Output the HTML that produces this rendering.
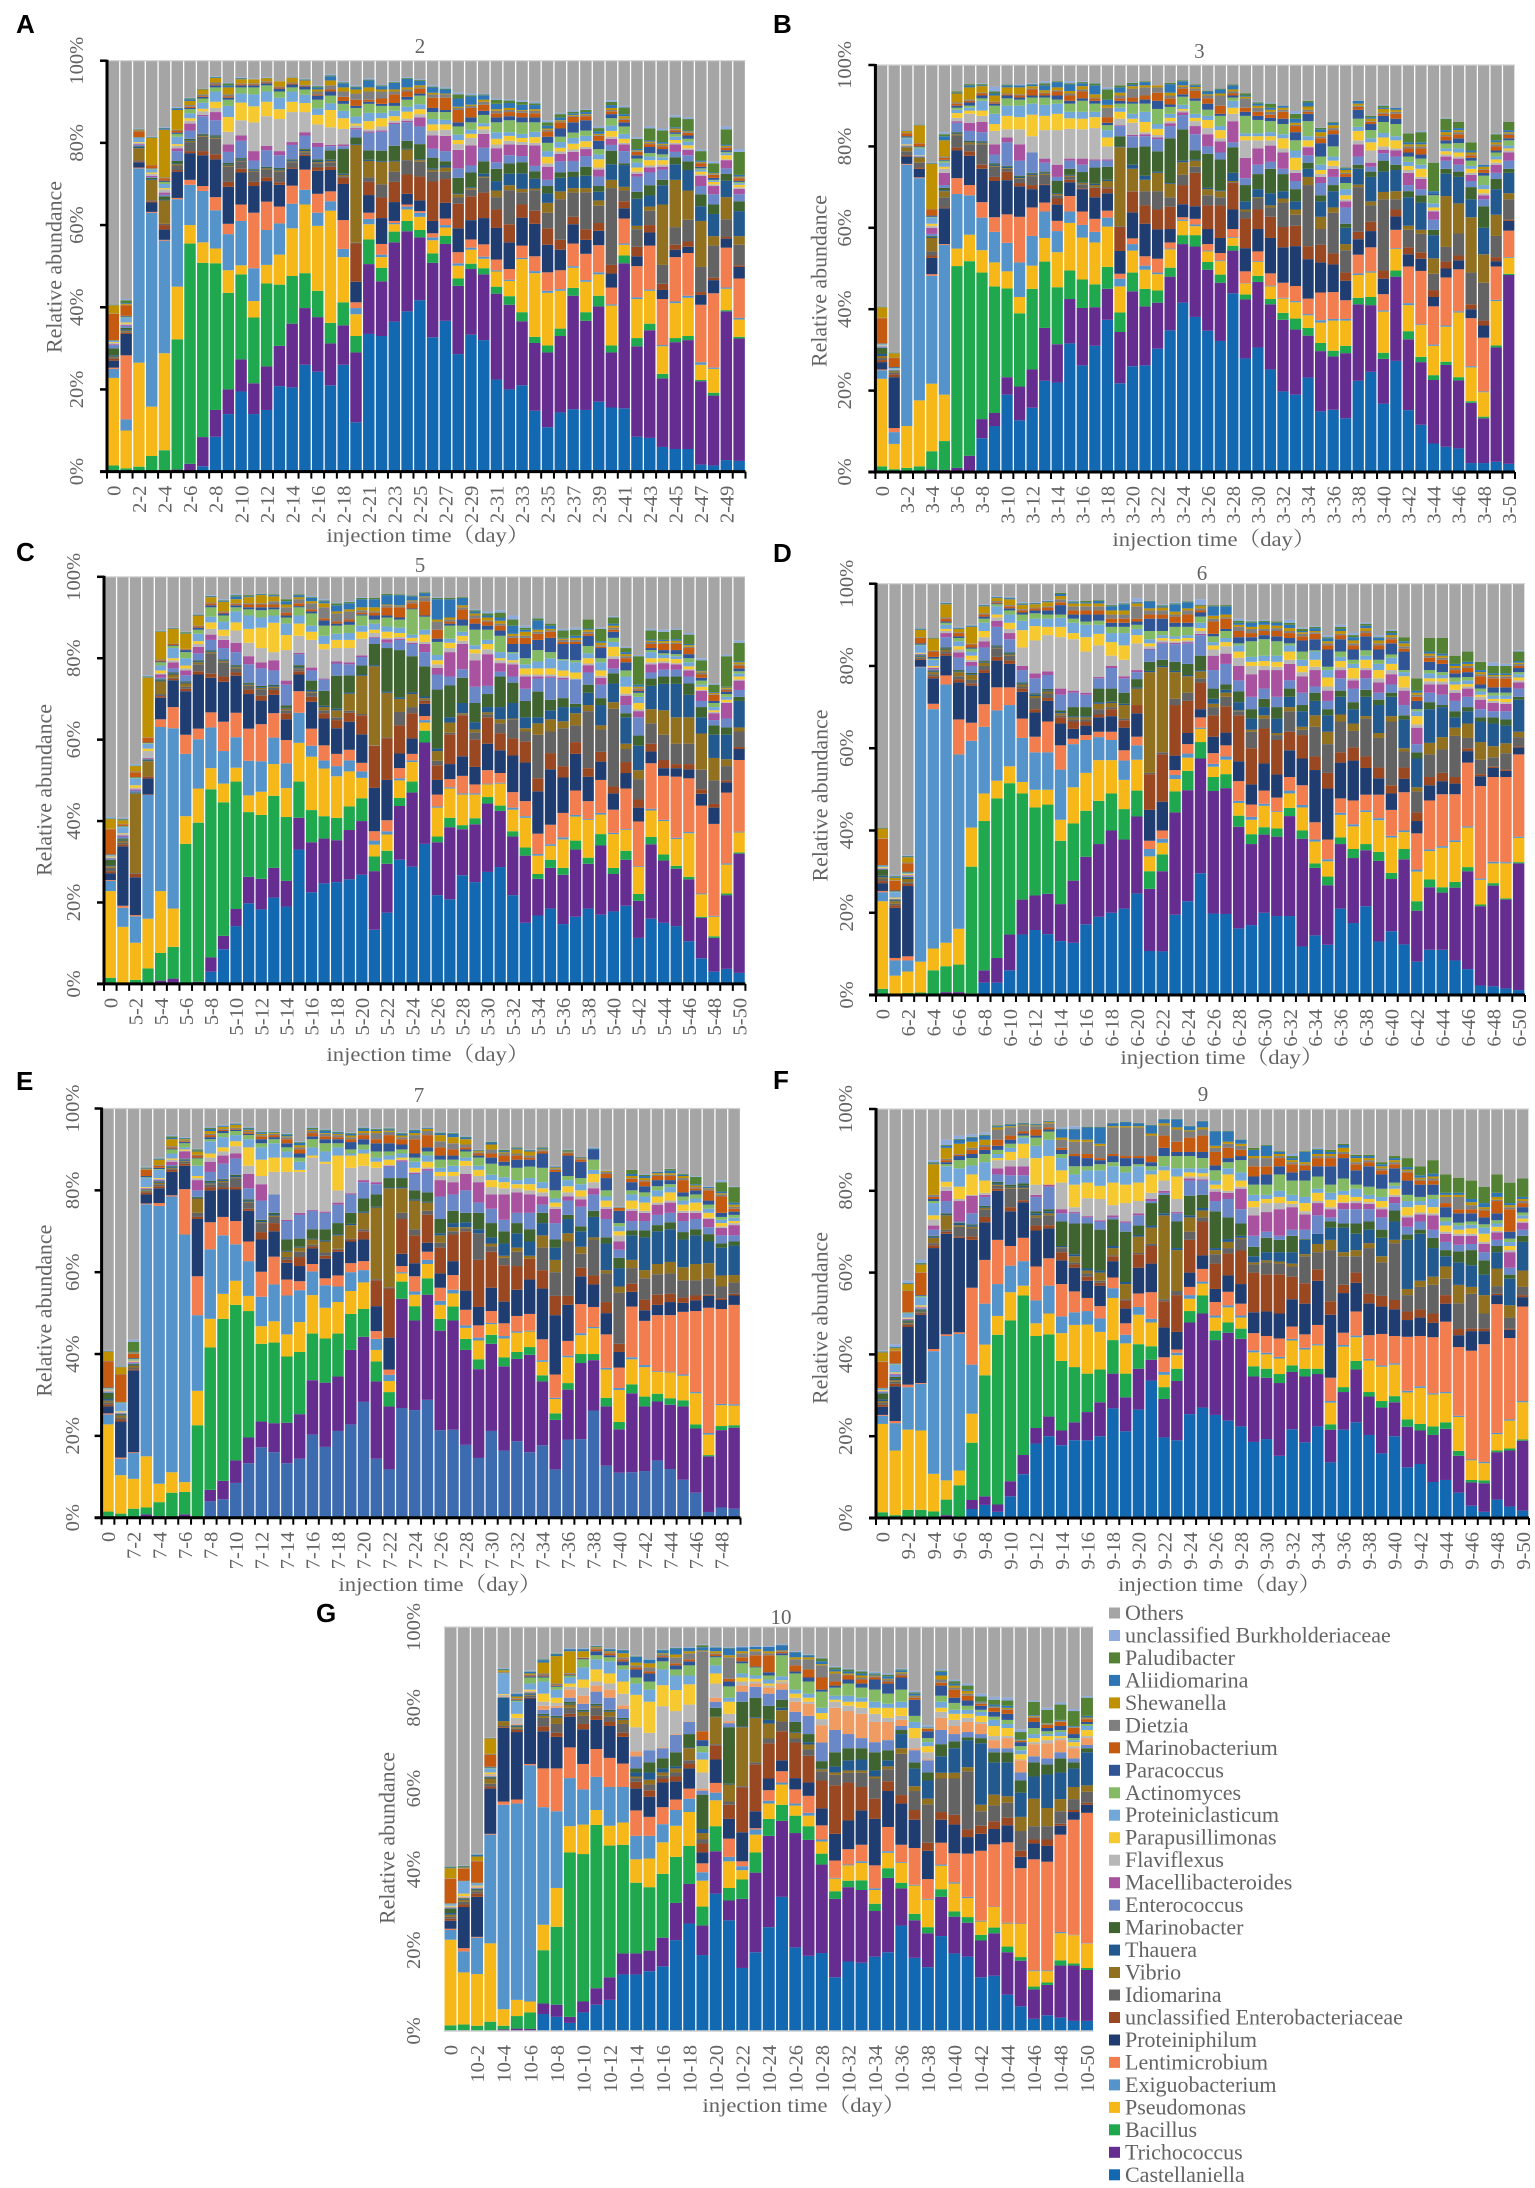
<!DOCTYPE html>
<html lang="en">
<head>
<meta charset="utf-8">
<title>Relative abundance by injection time</title>
<style>
html,body{margin:0;padding:0;background:#fff;}
svg{display:block;}
text{font-family:"Liberation Serif","Noto Serif CJK SC",serif;fill:#636363;}
.letter{font-family:"Liberation Sans",sans-serif;font-weight:bold;fill:#000;font-size:26px;}
</style>
</head>
<body>
<svg id="chart" xmlns="http://www.w3.org/2000/svg" width="1535" height="2188" viewBox="0 0 1535 2188">
<g id="panels"></g>
<g id="legend" font-size="22">
<rect x="1109" y="1607.5" width="11" height="11" fill="#a5a5a5"/><text x="1125" y="1620">Others</text>
<rect x="1109" y="1630" width="11" height="11" fill="#8faadc"/><text x="1125" y="1642.5">unclassified Burkholderiaceae</text>
<rect x="1109" y="1652.4" width="11" height="11" fill="#548235"/><text x="1125" y="1664.9">Paludibacter</text>
<rect x="1109" y="1674.9" width="11" height="11" fill="#2e75b6"/><text x="1125" y="1687.4">Aliidiomarina</text>
<rect x="1109" y="1697.4" width="11" height="11" fill="#bf9000"/><text x="1125" y="1709.9">Shewanella</text>
<rect x="1109" y="1719.9" width="11" height="11" fill="#7f7f7f"/><text x="1125" y="1732.4">Dietzia</text>
<rect x="1109" y="1742.3" width="11" height="11" fill="#c55a11"/><text x="1125" y="1754.8">Marinobacterium</text>
<rect x="1109" y="1764.8" width="11" height="11" fill="#2f5597"/><text x="1125" y="1777.3">Paracoccus</text>
<rect x="1109" y="1787.3" width="11" height="11" fill="#84ba63"/><text x="1125" y="1799.8">Actinomyces</text>
<rect x="1109" y="1809.7" width="11" height="11" fill="#72a7d9"/><text x="1125" y="1822.2">Proteiniclasticum</text>
<rect x="1109" y="1832.2" width="11" height="11" fill="#f7c930"/><text x="1125" y="1844.7">Parapusillimonas</text>
<rect x="1109" y="1854.7" width="11" height="11" fill="#b7b7b7"/><text x="1125" y="1867.2">Flaviflexus</text>
<rect x="1109" y="1877.2" width="11" height="11" fill="#a9529f"/><text x="1125" y="1889.7">Macellibacteroides</text>
<rect x="1109" y="1899.6" width="11" height="11" fill="#6a87c8"/><text x="1125" y="1912.1">Enterococcus</text>
<rect x="1109" y="1922.1" width="11" height="11" fill="#3f6430"/><text x="1125" y="1934.6">Marinobacter</text>
<rect x="1109" y="1944.6" width="11" height="11" fill="#22598f"/><text x="1125" y="1957.1">Thauera</text>
<rect x="1109" y="1967" width="11" height="11" fill="#917020"/><text x="1125" y="1979.5">Vibrio</text>
<rect x="1109" y="1989.5" width="11" height="11" fill="#636363"/><text x="1125" y="2002">Idiomarina</text>
<rect x="1109" y="2012" width="11" height="11" fill="#9a4822"/><text x="1125" y="2024.5">unclassified Enterobacteriaceae</text>
<rect x="1109" y="2034.5" width="11" height="11" fill="#203d72"/><text x="1125" y="2047">Proteiniphilum</text>
<rect x="1109" y="2056.9" width="11" height="11" fill="#f27d4f"/><text x="1125" y="2069.4">Lentimicrobium</text>
<rect x="1109" y="2079.4" width="11" height="11" fill="#5594cb"/><text x="1125" y="2091.9">Exiguobacterium</text>
<rect x="1109" y="2101.9" width="11" height="11" fill="#f5b818"/><text x="1125" y="2114.4">Pseudomonas</text>
<rect x="1109" y="2124.3" width="11" height="11" fill="#20a84f"/><text x="1125" y="2136.8">Bacillus</text>
<rect x="1109" y="2146.8" width="11" height="11" fill="#662d91"/><text x="1125" y="2159.3">Trichococcus</text>
<rect x="1109" y="2169.3" width="11" height="11" fill="#1269b2"/><text x="1125" y="2181.8">Castellaniella</text>
</g>
</svg>
<script>
// All series values are the upper edge of each stacked band, in tenths of a percent.
// "Others" fills from the top band up to 100%.
const seriesNames=['castellaniella','trichococcus','bacillus','pseudomonas','exiguobacterium','lentimicrobium','proteiniphilum','enterobacteriaceae','idiomarina','vibrio','thauera','marinobacter','enterococcus','macellibacteroides','flaviflexus','parapusillimonas','proteiniclasticum','actinomyces','paracoccus','marinobacterium','dietzia','shewanella','aliidiomarina','paludibacter','burkholderiaceae'];
const seriesColors=['#1269b2','#662d91','#20a84f','#f5b818','#5594cb','#f27d4f','#203d72','#9a4822','#636363','#917020','#22598f','#3f6430','#6a87c8','#a9529f','#b7b7b7','#f7c930','#72a7d9','#84ba63','#2f5597','#c55a11','#7f7f7f','#bf9000','#2e75b6','#548235','#8faadc'];
const othersColor='#a5a5a5';
const yTickLabels=['0%','20%','40%','60%','80%','100%'];
const yTickValues=[0,200,400,600,800,1000];

/* ===== Panel A ===== */
const tickLabelsA=['0','2-2','2-4','2-6','2-8','2-10','2-12','2-14','2-16','2-18','2-21','2-23','2-25','2-27','2-29','2-31','2-33','2-35','2-37','2-39','2-41','2-43','2-45','2-47','2-49'];
const castellaniellaA=[0,0,0,0,2,2,0,13,85,140,195,140,150,208,205,260,243,210,260,120,335,330,365,390,417,327,367,286,333,320,224,200,210,148,108,144,152,150,170,156,154,85,82,60,55,55,17,15,28,26];
const trichococcusA=[0,0,0,0,2,5,19,84,150,200,273,215,256,306,360,398,376,312,356,290,505,463,558,585,570,508,554,452,493,480,433,406,366,313,290,330,428,367,402,290,507,305,344,227,315,320,220,185,390,324];
const bacillusA=[15,8,12,38,52,322,555,508,507,435,480,375,458,455,476,483,440,362,412,330,565,496,584,610,588,531,574,470,506,495,450,427,388,328,307,348,447,388,428,307,526,325,360,238,325,330,223,192,393,328];
const pseudomonasA=[228,100,265,158,288,450,600,558,543,490,502,415,503,528,592,650,598,635,522,383,602,522,602,638,620,563,594,501,540,518,487,464,517,483,435,440,496,462,480,404,552,420,440,305,410,423,260,250,445,370];
const exiguobacteriumA=[250,127,738,630,562,663,698,683,636,578,610,495,588,604,652,686,630,658,542,398,615,528,605,645,630,570,600,507,545,523,490,467,520,488,440,444,500,466,485,407,555,424,443,308,414,428,266,253,448,374];
const lentimicrobiumA=[253,283,740,632,564,666,710,695,668,603,650,630,657,645,696,735,676,682,612,412,630,554,610,650,634,580,616,534,565,553,516,493,550,524,485,490,555,530,551,448,616,500,550,420,522,532,406,434,545,470];
const proteiniphilumA=[270,335,753,655,589,730,775,770,760,693,728,695,707,698,737,768,732,734,700,462,673,617,656,676,660,610,654,592,612,617,593,558,618,603,552,540,602,564,586,482,641,524,582,442,540,547,430,466,567,498];
const enterobacteriaceaeA=[275,338,755,658,600,734,780,780,772,705,737,705,716,704,740,771,740,742,716,555,705,667,705,723,718,706,712,652,670,679,638,602,650,635,592,564,620,590,605,503,658,547,600,457,552,560,437,472,571,502];
const idiomarinaA=[278,340,757,660,603,745,802,815,810,742,755,730,735,730,753,777,750,753,719,557,716,699,730,758,754,730,730,667,686,715,668,685,680,685,630,663,679,680,647,690,684,590,635,503,595,613,498,550,614,552];
const vibrioA=[280,343,787,710,660,748,805,818,813,745,757,732,738,733,755,780,753,756,722,795,756,754,755,784,758,735,740,675,690,718,684,697,688,689,654,682,690,690,660,710,693,598,645,650,710,684,610,573,668,573];
const thaueraA=[283,346,790,712,662,750,807,820,815,747,760,734,740,736,758,783,756,759,725,797,759,756,757,786,760,738,745,677,692,725,707,725,726,713,677,715,717,720,681,748,746,664,672,697,748,734,646,627,708,634];
const marinobacterA=[300,350,792,715,670,756,810,822,818,751,763,736,742,739,760,786,760,782,785,813,782,781,793,805,797,764,755,715,728,755,737,750,753,731,695,728,730,742,695,781,750,681,697,710,765,755,675,650,725,658];
const enterococcusA=[308,355,795,717,674,780,830,865,855,778,805,757,782,770,795,818,790,792,792,833,825,827,846,850,840,786,780,738,745,788,753,770,768,744,710,755,756,768,718,795,780,718,728,735,778,770,695,675,738,675];
const macellibacteroidesA=[310,357,797,720,679,787,847,868,875,796,818,780,793,780,802,826,800,795,796,836,828,830,849,854,862,818,817,783,794,822,787,796,795,794,742,773,778,785,735,810,796,725,740,742,796,783,720,695,758,688];
const flaviflexusA=[313,360,800,725,687,793,854,877,885,827,855,850,865,858,875,875,845,838,834,842,833,840,854,859,870,830,832,797,812,833,796,805,802,800,750,779,784,790,740,815,800,730,745,747,800,787,723,699,760,692];
const parapusillimonasA=[315,363,802,728,690,797,860,883,900,863,898,889,900,882,900,897,868,880,860,847,853,860,865,876,882,845,845,807,822,840,810,817,812,814,766,788,798,804,760,829,810,740,758,758,807,794,730,705,770,698];
const proteiniclasticumA=[318,375,812,735,700,815,872,898,925,890,920,918,925,910,925,917,884,896,878,864,873,873,878,888,894,858,856,820,832,848,826,826,822,827,780,802,812,817,772,842,822,752,767,765,815,803,735,708,775,702];
const actinomycesA=[319,377,813,737,705,822,882,908,935,905,935,935,940,925,935,930,905,915,895,885,895,890,890,905,915,875,875,840,850,868,850,855,850,850,800,815,825,830,785,860,840,762,775,772,822,810,738,710,778,705];
const paracoccusA=[320,379,814,738,708,825,885,912,940,910,940,940,945,932,942,937,915,925,902,890,900,895,897,912,920,885,880,850,862,878,862,865,862,862,815,835,850,855,805,870,850,770,790,785,826,818,742,715,782,708];
const marinobacteriumA=[384,405,828,745,714,830,888,914,942,913,943,942,947,935,945,939,918,930,912,905,905,908,918,925,932,910,910,880,885,893,872,875,873,872,828,850,863,865,817,877,856,778,797,792,830,824,750,722,788,714];
const dietziaA=[385,406,830,746,716,832,892,918,947,918,945,945,950,937,947,941,925,940,925,920,925,925,925,930,935,918,918,885,890,900,878,880,878,878,832,852,866,868,819,880,859,780,800,795,832,826,752,724,790,716];
const shewanellaA=[405,408,832,812,832,880,902,930,958,935,955,955,957,950,958,952,930,952,935,930,935,930,930,935,940,922,920,888,893,905,882,885,880,882,835,855,868,870,822,885,865,782,803,798,835,828,754,726,793,718];
const aliidiomarinaA=[406,410,833,813,835,884,906,931,960,940,957,954,957,948,958,954,935,962,945,935,952,938,946,956,951,935,930,908,913,916,895,897,893,892,842,862,872,875,828,892,870,785,806,802,838,830,757,728,796,722];
const paludibacterA=[407,417,834,814,836,885,908,932,961,945,958,955,958,949,959,955,938,964,947,937,954,940,948,958,953,937,932,918,916,918,905,903,900,896,850,870,876,880,836,900,886,810,835,830,862,858,780,750,833,778];
const burkholderiaceaeA=[408,420,835,815,838,887,910,933,962,947,960,957,960,950,960,956,940,967,950,940,957,942,950,960,955,940,935,922,920,920,908,906,904,900,855,873,880,882,840,904,890,814,840,835,867,862,784,755,840,785];

/* ===== Panel B ===== */
const tickLabelsB=['0','3-2','3-4','3-6','3-8','3-10','3-12','3-14','3-16','3-18','3-20','3-22','3-24','3-26','3-28','3-30','3-32','3-34','3-36','3-38','3-40','3-42','3-44','3-46','3-48','3-50'];
const castellaniellaB=[0,0,0,0,3,3,0,0,83,113,190,127,158,224,220,316,262,310,374,218,260,262,303,348,416,381,347,322,439,279,306,252,198,190,232,149,153,132,224,246,168,273,152,116,70,62,58,22,22,25,20];
const trichococcusB=[0,0,0,0,6,5,10,40,130,145,233,210,252,354,314,425,403,405,450,344,444,407,416,480,560,554,497,465,544,424,467,412,374,350,335,297,284,292,412,410,278,480,326,270,226,263,225,170,132,306,484];
const bacillusB=[14,7,10,14,51,76,506,518,490,456,451,390,450,517,454,495,473,461,504,392,490,450,446,502,582,582,516,485,556,436,482,425,391,377,354,317,298,310,428,430,293,495,346,283,238,271,233,174,136,311,487];
const pseudomonasB=[229,69,113,176,217,190,549,583,545,515,493,430,507,575,540,612,576,564,603,456,544,497,486,547,617,604,542,518,575,463,516,456,426,417,385,367,372,372,484,490,394,548,410,361,310,357,392,257,196,420,526];
const exiguobacteriumB=[250,98,755,722,482,558,683,680,625,590,563,515,580,640,592,640,607,590,625,475,560,507,490,549,620,608,544,520,577,464,518,458,428,420,388,373,376,376,488,493,397,550,415,363,313,360,395,260,198,423,528];
const lentimicrobiumB=[252,108,757,724,486,560,722,705,663,626,633,627,650,662,617,678,640,622,642,487,574,530,524,564,626,622,560,538,597,493,542,488,465,457,426,441,442,422,534,552,437,595,505,494,407,478,498,378,330,505,593];
const proteiniphilumB=[270,233,775,745,526,648,790,777,745,715,717,702,695,705,657,712,695,675,685,543,638,610,596,597,658,653,597,575,645,550,597,575,552,555,523,515,510,470,572,592,475,628,535,524,430,500,520,400,360,518,617];
const enterobacteriaceaeB=[275,240,778,748,532,650,797,788,755,725,738,710,705,707,672,718,697,698,697,602,689,655,645,652,705,735,655,655,710,623,645,627,602,605,555,558,537,490,590,615,495,645,552,540,447,517,532,412,372,528,620];
const idiomarinaB=[280,245,788,760,542,675,827,805,805,750,745,720,727,730,680,725,707,700,700,604,690,690,690,675,730,750,680,675,712,640,672,650,662,632,705,597,637,545,700,655,670,670,595,585,487,553,586,490,465,580,670];
const vibrioB=[285,248,798,772,575,690,830,810,808,752,747,722,730,733,683,728,710,705,715,798,745,718,735,708,761,765,695,690,715,645,675,655,672,645,725,627,650,560,706,665,688,690,605,595,525,678,660,626,535,632,685];
const thaueraB=[290,249,799,773,578,692,832,812,810,755,750,725,733,735,685,730,712,708,718,800,755,728,738,710,765,768,698,692,735,665,695,685,690,665,745,665,690,600,745,725,738,742,675,662,582,733,725,670,600,695,735];
const marinobacterB=[305,250,800,774,580,698,835,814,812,758,752,728,735,738,715,745,737,748,750,825,797,800,788,820,842,790,782,768,798,705,732,745,732,695,760,680,705,610,755,738,765,755,690,680,595,745,738,700,653,720,745];
const enterococcusB=[308,251,801,775,585,705,858,838,835,780,810,765,785,760,725,765,755,765,765,850,825,825,818,850,877,830,800,785,810,722,755,762,745,715,778,710,725,650,775,750,783,775,705,695,620,765,755,715,670,735,765];
const macellibacteroidesB=[309,251,802,776,600,735,862,858,860,805,822,805,785,770,755,770,770,768,768,852,828,830,822,857,884,850,830,812,862,772,795,802,785,735,798,725,745,665,805,760,792,790,735,720,640,775,770,730,680,755,785];
const flaviflexusB=[310,252,803,777,605,745,870,880,875,838,842,842,825,840,840,843,842,845,800,868,858,835,828,862,888,862,845,820,880,815,815,815,795,742,800,732,752,670,815,790,800,795,742,725,643,780,775,735,685,760,790];
const parapusillimonasB=[311,252,805,778,610,750,882,888,888,855,875,872,878,875,880,869,868,872,822,885,868,860,843,870,892,870,865,840,895,825,825,825,820,772,815,742,765,680,838,810,822,815,752,745,650,788,785,745,695,768,795];
const proteiniclasticumB=[314,255,820,795,625,760,890,895,912,880,900,900,905,902,905,885,885,885,840,895,880,885,855,880,902,880,875,850,912,832,832,835,830,790,825,755,775,695,848,820,833,825,762,755,660,795,795,752,705,775,802];
const actinomycesB=[315,256,822,798,627,765,895,900,918,900,918,915,920,920,915,905,912,905,852,905,905,905,892,897,922,912,890,875,920,875,865,862,855,815,862,775,800,710,868,840,860,855,775,770,680,807,808,765,728,785,815];
const paracoccusB=[316,258,825,800,630,767,900,908,925,905,925,920,925,925,925,912,918,912,858,912,910,915,912,903,928,918,905,880,925,885,875,870,868,835,880,808,830,725,890,855,875,868,785,780,685,815,820,772,735,790,820];
const marinobacteriumB=[378,280,832,807,645,772,905,912,930,908,928,925,940,930,935,925,935,918,872,918,920,925,932,918,942,937,918,900,930,895,885,878,885,850,885,820,840,732,897,860,880,880,795,795,672,825,830,778,742,800,828];
const dietziaB=[379,281,833,808,646,775,908,915,932,910,930,928,942,932,938,930,940,920,895,925,942,945,945,925,946,942,925,925,935,918,895,885,890,853,890,825,845,735,900,862,883,885,800,800,675,828,835,780,744,805,832];
const shewanellaB=[405,292,838,852,757,815,930,945,948,925,945,945,948,938,945,936,948,928,902,932,948,950,950,932,950,946,928,930,940,922,900,890,895,858,898,835,852,742,905,868,892,890,805,805,680,835,840,785,750,810,835];
const aliidiomarinaB=[406,293,839,853,758,825,932,950,950,930,950,950,952,950,958,952,955,950,915,945,952,958,940,953,960,950,935,940,950,925,905,895,900,868,908,842,858,746,912,872,895,895,810,810,690,840,845,790,755,815,840];
const paludibacterB=[407,294,839,854,759,830,935,953,953,935,952,950,953,955,960,955,958,955,940,950,956,960,942,956,962,952,937,942,952,930,908,905,898,880,912,846,860,748,906,875,900,885,832,835,760,868,860,810,728,830,860];
const burkholderiaceaeB=[408,295,840,855,760,835,895,935,955,947,953,952,955,960,950,960,960,957,945,950,957,955,947,955,960,950,935,938,950,920,910,908,900,887,910,847,860,748,908,875,902,888,833,838,760,870,860,810,728,832,860];

/* ===== Panel C ===== */
const tickLabelsC=['0','5-2','5-4','5-6','5-8','5-10','5-12','5-14','5-16','5-18','5-20','5-22','5-24','5-26','5-28','5-30','5-32','5-34','5-36','5-38','5-40','5-42','5-44','5-46','5-48','5-50'];
const castellaniellaC=[0,0,0,0,0,0,0,0,30,85,142,198,183,212,190,330,225,247,250,257,268,133,175,305,288,344,218,208,267,250,275,287,218,150,168,185,147,165,185,170,178,192,113,160,150,142,105,63,30,37,27];
const trichococcusC=[0,0,0,3,8,13,3,5,65,118,184,263,258,285,253,408,348,357,353,378,400,277,295,437,470,593,348,385,380,392,443,425,362,315,258,285,268,330,295,340,270,305,204,343,303,283,257,162,113,218,320];
const bacillusC=[15,0,10,38,76,91,344,396,478,446,497,422,415,462,410,497,427,412,408,436,456,313,327,457,497,622,362,408,390,407,459,438,375,335,270,305,285,352,310,368,285,327,221,361,318,290,263,165,117,222,323];
const pseudomonasC=[228,140,101,160,228,185,412,480,530,492,531,463,472,540,481,592,558,529,510,522,506,342,367,500,545,642,433,480,465,465,490,492,428,408,315,339,355,411,403,416,368,378,287,426,400,356,370,220,165,293,372];
const exiguobacteriumC=[253,187,166,464,631,628,565,601,630,572,606,548,547,605,542,666,585,549,535,549,522,352,375,505,549,648,436,483,468,468,492,494,433,412,319,343,360,415,405,420,371,380,289,430,403,359,373,222,167,296,374];
const lentimicrobiumC=[255,192,169,465,650,680,612,627,667,644,666,627,638,665,599,719,627,586,565,575,543,375,402,530,565,658,465,503,511,490,525,518,471,449,369,391,420,475,449,501,428,480,399,542,511,509,505,438,393,470,550];
const proteiniphilumC=[272,338,262,505,703,746,719,760,752,742,757,712,696,710,650,760,693,652,628,644,613,482,501,566,603,688,501,540,559,533,590,574,561,544,473,527,507,565,509,546,468,518,433,571,530,530,527,467,433,495,577];
const enterobacteriaceaeC=[277,343,270,510,707,750,725,768,762,755,765,723,708,722,665,768,705,665,648,666,660,585,603,635,665,695,537,613,660,600,655,616,603,595,505,567,535,594,530,570,485,545,453,590,550,540,540,478,442,500,582];
const idiomarinaC=[285,347,272,510,712,752,730,785,812,790,775,732,724,727,672,773,715,672,655,671,663,586,605,668,680,697,548,617,662,618,662,640,650,620,612,620,628,635,670,625,676,577,503,640,612,590,590,526,500,535,620];
const vibrioC=[289,352,467,547,743,760,738,790,815,793,778,735,727,730,676,775,718,680,672,713,757,780,715,700,712,702,572,642,665,625,667,650,652,628,640,650,645,665,685,635,692,590,525,675,672,655,655,615,555,552,630];
const thaueraC=[291,354,468,549,745,763,741,793,817,795,780,737,729,733,678,778,722,683,676,716,760,783,718,704,716,706,578,655,690,643,680,680,690,655,655,672,680,680,715,685,738,655,585,732,737,737,710,655,612,612,695];
const marinobacterC=[305,357,470,551,748,765,743,795,819,797,783,740,732,735,684,783,745,720,757,758,782,835,825,820,805,780,723,733,752,690,712,755,740,695,718,698,702,688,735,702,763,665,610,750,755,755,738,680,635,630,705];
const enterococcusC=[308,362,475,553,752,775,758,812,845,825,815,785,775,770,735,810,770,748,787,785,803,850,838,845,835,815,760,755,773,730,732,767,755,725,750,752,748,748,765,735,775,685,655,765,772,772,755,695,648,652,722];
const macellibacteroidesC=[309,365,478,555,760,790,770,828,858,845,838,805,790,795,745,813,777,750,792,790,807,852,846,848,838,835,776,815,835,795,810,788,785,755,755,755,752,746,783,752,798,708,670,785,788,785,770,720,665,690,745];
const flaviflexusC=[311,368,482,572,763,795,775,835,872,855,868,838,825,815,820,855,845,822,825,825,848,862,850,852,842,840,785,825,843,812,822,795,790,760,760,760,756,750,787,757,805,713,674,790,792,788,773,722,668,692,748];
const parapusillimonasC=[313,370,488,578,770,800,782,842,888,870,888,872,875,887,857,885,865,835,845,845,865,870,865,862,850,858,795,838,855,822,835,800,795,775,775,775,770,765,800,770,828,730,690,800,800,798,780,730,672,698,755];
const proteiniclasticumC=[316,385,505,590,782,825,800,860,902,890,915,905,900,905,885,905,880,855,860,862,880,885,878,875,858,870,808,848,865,832,845,815,812,785,792,800,795,790,812,790,840,755,705,815,808,805,790,735,680,705,762];
const actinomycesC=[317,387,507,592,790,830,815,870,925,905,925,920,918,920,900,925,910,880,880,882,905,895,900,895,920,902,840,880,880,870,870,855,815,800,820,815,798,795,830,800,850,770,715,820,812,810,800,745,690,712,768];
const paracoccusC=[318,388,508,593,792,832,820,875,930,910,930,925,925,925,905,928,915,893,885,890,908,905,905,900,922,905,848,885,895,885,880,868,835,835,845,850,835,835,855,825,865,790,720,825,820,820,810,752,695,718,775];
const marinobacteriumC=[380,392,520,605,795,835,822,878,935,913,933,932,932,932,912,935,920,898,890,895,912,912,925,925,935,940,870,890,920,898,890,880,850,850,860,865,840,840,860,828,870,800,723,835,835,835,825,760,710,722,782];
const dietziaC=[381,393,522,606,797,836,823,880,937,915,935,935,935,940,925,945,935,925,910,915,918,915,930,928,940,950,890,895,925,905,893,885,855,855,865,868,845,845,865,832,875,805,726,840,838,838,828,765,712,725,785];
const shewanellaC=[405,402,535,752,865,872,860,905,950,938,945,950,955,952,932,950,940,935,915,920,925,925,932,930,942,952,895,900,930,910,900,892,860,865,870,872,848,850,870,838,880,810,730,843,842,843,832,768,715,728,790];
const aliidiomarinaC=[406,403,536,753,866,873,861,907,952,940,952,952,957,955,940,955,948,940,930,935,945,945,955,955,952,960,945,945,948,915,905,900,880,870,893,880,850,855,873,842,885,815,735,846,845,847,835,770,717,730,793];
const paludibacterC=[407,405,537,755,867,874,864,908,953,942,955,955,958,957,945,957,950,942,935,938,948,948,958,957,954,962,948,948,950,918,910,912,895,875,898,885,868,870,895,872,900,825,805,868,865,870,858,795,735,805,838];
const burkholderiaceaeC=[410,408,540,758,868,875,865,910,955,945,958,955,958,957,945,957,953,945,937,940,950,948,955,957,955,955,950,948,950,920,915,918,905,880,900,885,872,875,892,875,903,828,808,872,870,873,862,800,738,808,843];

/* ===== Panel D ===== */
const tickLabelsD=['0','6-2','6-4','6-6','6-8','6-10','6-12','6-14','6-16','6-18','6-20','6-22','6-24','6-26','6-28','6-30','6-32','6-34','6-36','6-38','6-40','6-42','6-44','6-46','6-48','6-50'];
const castellaniellaD=[0,0,0,0,0,0,0,0,30,30,60,147,158,148,131,127,172,190,200,210,247,107,106,195,228,296,198,197,162,170,200,192,192,118,145,122,210,175,216,130,155,123,81,110,110,84,63,23,21,16,12];
const trichococcusD=[0,0,0,0,0,7,7,4,60,90,147,232,242,246,221,278,336,367,400,378,434,258,301,444,498,575,496,503,409,367,390,385,435,380,309,267,367,333,352,326,282,330,205,262,249,261,301,216,266,232,320];
const bacillusD=[15,0,5,6,60,70,74,312,423,478,515,490,456,463,375,417,448,472,490,452,497,301,342,495,545,615,530,537,436,391,408,405,455,400,320,288,383,355,367,348,297,355,228,281,262,275,311,220,272,235,323];
const pseudomonasD=[228,47,57,81,113,127,161,407,490,521,556,518,499,499,426,505,540,571,571,523,572,337,370,525,577,647,555,572,467,426,460,445,490,456,373,325,438,410,445,425,383,396,300,350,358,372,407,280,320,320,382];
const exiguobacteriumD=[250,84,84,797,695,755,585,618,652,692,705,625,590,590,548,610,620,627,620,570,607,355,380,535,587,650,562,580,472,433,465,447,497,462,378,330,443,415,449,430,387,400,305,354,362,376,410,283,324,323,385];
const lentimicrobiumD=[253,90,94,798,708,777,670,662,707,748,748,672,628,665,607,623,632,640,640,595,628,375,400,547,610,675,588,607,520,463,497,480,530,510,420,378,478,473,487,487,450,493,393,473,488,488,565,508,530,530,585];
const proteiniphilumD=[272,212,265,815,770,825,760,752,783,813,805,737,687,715,660,647,655,675,678,650,685,450,470,582,637,695,628,638,568,512,563,536,595,575,547,502,565,570,552,527,490,526,423,510,520,514,593,532,552,545,602];
const enterobacteriaceaeD=[277,218,270,817,775,830,768,757,790,822,813,745,695,722,675,665,665,682,695,668,705,537,585,705,715,760,680,702,680,600,648,620,640,632,580,540,590,602,580,553,510,553,444,530,540,530,600,537,555,548,605];
const idiomarinaD=[282,222,274,820,780,835,775,766,800,843,825,750,722,733,680,670,670,695,700,672,705,540,590,720,735,770,700,725,690,640,672,632,690,645,652,610,665,642,672,625,665,592,495,585,597,630,625,572,578,588,627];
const vibrioD=[286,228,282,822,785,840,785,778,808,845,828,755,727,738,685,675,675,708,710,705,745,785,797,785,775,787,708,735,692,645,680,637,700,652,680,640,682,660,678,637,678,600,505,613,627,650,660,615,605,612,640];
const thaueraD=[290,230,285,824,787,842,787,780,810,848,830,758,730,741,688,678,678,712,713,708,748,788,800,788,778,790,720,742,712,672,700,672,725,690,715,680,725,695,725,705,725,670,575,695,700,675,690,665,660,655,718];
const marinobacterD=[305,232,287,826,789,845,790,783,813,850,833,760,733,744,692,700,700,745,745,735,768,810,815,810,805,825,745,755,738,695,720,700,745,705,735,695,740,712,742,718,735,680,590,712,705,690,700,675,675,670,725];
const enterococcusD=[307,233,289,828,792,870,820,800,845,895,865,790,770,778,730,735,730,770,795,770,785,840,855,853,855,875,790,805,765,725,745,725,765,735,750,715,770,745,770,735,755,705,610,735,730,715,725,695,690,690,745];
const macellibacteroidesD=[308,234,291,829,795,880,833,810,860,910,880,800,782,787,745,740,735,773,800,775,790,842,857,856,858,878,825,830,800,780,790,790,805,775,790,740,790,765,790,760,780,740,650,755,755,735,745,718,710,708,760];
const flaviflexusD=[309,235,292,830,797,885,840,815,870,918,890,845,862,875,870,865,835,850,825,815,855,848,862,860,862,885,840,848,820,800,800,798,815,785,798,750,797,770,795,770,790,748,658,763,762,742,750,725,715,712,765];
const parapusillimonasD=[311,237,294,832,800,890,848,825,885,925,905,887,897,895,895,880,870,878,858,850,875,855,868,866,868,892,850,858,835,810,812,810,835,800,815,772,812,795,815,790,805,775,678,770,770,755,756,730,720,720,772];
const proteiniclasticumD=[314,250,296,850,815,900,860,835,905,945,925,910,915,915,917,905,900,900,880,880,890,865,875,872,875,905,858,868,850,822,825,825,850,815,835,790,822,805,825,805,820,785,690,782,778,762,765,738,728,728,780];
const actinomycesD=[315,252,298,852,818,905,868,842,915,950,935,925,928,925,925,915,908,910,895,895,900,885,885,895,895,920,872,885,855,860,865,860,855,835,838,798,835,815,838,815,828,790,695,790,785,772,773,745,735,735,785];
const paracoccusD=[316,254,300,855,822,908,872,845,920,952,940,930,935,935,948,925,925,925,905,905,908,915,915,905,905,930,878,890,870,870,875,872,868,862,865,840,865,840,872,840,855,835,715,810,805,782,785,755,748,748,795];
const marinobacteriumD=[380,278,320,868,835,915,880,852,925,955,945,935,940,942,955,935,935,935,915,915,915,925,925,920,925,935,908,915,885,880,885,885,880,872,878,850,875,850,880,850,865,842,725,820,815,790,795,775,770,770,800];
const dietziaD=[381,279,322,870,837,918,882,854,928,958,948,938,942,945,962,945,945,945,925,925,945,935,935,925,935,940,915,918,895,890,890,892,885,878,882,855,878,855,885,855,870,848,730,825,820,795,800,780,775,775,805];
const shewanellaD=[405,285,335,888,867,950,890,895,945,965,962,948,950,955,970,952,952,952,935,935,952,940,942,932,940,945,922,925,900,895,900,898,892,882,885,860,885,862,892,862,875,855,735,830,825,800,805,785,778,778,808];
const aliidiomarinaD=[406,287,337,890,868,952,892,897,947,967,965,950,952,957,975,955,955,958,945,950,955,957,945,950,955,945,945,945,905,905,907,905,900,885,892,867,890,870,898,868,880,860,740,835,830,805,810,790,782,782,812];
const paludibacterD=[407,289,338,891,869,953,893,898,948,968,966,952,953,958,978,957,958,960,948,952,956,958,947,952,957,948,947,948,910,908,910,908,905,890,895,870,895,875,902,870,885,870,770,868,868,825,835,810,800,800,835];
const burkholderiaceaeD=[408,292,340,892,870,955,895,900,950,970,968,955,955,960,970,960,958,958,950,955,965,957,950,955,958,962,945,935,915,910,912,908,912,893,897,875,900,880,905,875,888,842,770,850,852,812,835,810,808,805,838];

/* ===== Panel E ===== */
const tickLabelsE=['0','7-2','7-4','7-6','7-8','7-10','7-12','7-14','7-16','7-18','7-20','7-22','7-24','7-26','7-28','7-30','7-32','7-34','7-36','7-38','7-40','7-42','7-44','7-46','7-48'];
const castellaniellaE=[0,0,0,0,0,0,0,0,40,45,85,133,172,160,133,144,203,173,212,228,283,144,118,268,263,288,214,215,178,146,212,164,187,160,177,118,191,192,262,127,110,111,114,140,119,93,61,14,25,22];
const trichococcusE=[0,0,0,8,4,0,8,3,68,90,140,196,235,231,232,253,336,330,345,410,442,333,272,535,482,545,457,482,410,363,425,370,388,398,333,239,313,378,385,272,216,304,272,284,276,272,218,150,214,220];
const bacillusE=[15,10,22,25,38,61,63,226,416,486,520,505,425,428,394,405,450,438,450,498,510,382,307,577,517,585,486,516,437,387,447,392,405,417,348,255,329,400,400,293,234,326,296,303,292,287,228,153,224,226];
const pseudomonasE=[228,104,95,150,83,111,87,310,486,547,579,542,468,480,448,478,544,513,527,554,575,410,334,597,545,620,520,548,464,433,473,438,452,455,381,290,392,446,463,362,312,387,368,356,355,347,304,203,275,274];
const exiguobacteriumE=[252,144,158,766,762,785,692,495,656,690,668,627,540,570,543,556,602,568,565,600,605,437,349,600,553,630,530,557,470,440,476,444,455,457,385,293,396,451,466,366,317,392,373,358,357,350,307,207,278,277];
const lentimicrobiumE=[255,147,160,768,769,788,803,590,722,735,725,675,601,638,582,578,620,585,592,622,627,456,362,615,590,650,562,593,508,470,505,475,493,498,436,350,432,522,515,448,367,516,481,495,495,503,505,513,510,520];
const proteiniphilumE=[272,235,360,790,805,845,860,730,800,803,802,750,680,700,623,615,658,633,650,675,680,517,440,645,622,672,597,627,555,515,562,528,557,582,560,495,520,590,570,500,405,552,507,520,527,525,531,542,532,543];
const enterobacteriaceaeE=[277,240,363,795,810,850,865,735,808,807,808,755,698,720,630,637,663,640,655,680,700,580,560,730,690,740,660,692,700,630,650,617,615,633,605,542,542,611,592,527,425,572,533,545,547,538,543,545,536,547];
const idiomarinaE=[282,245,367,797,815,853,870,745,815,820,830,770,720,735,637,650,667,648,657,682,705,583,563,745,705,750,672,700,707,695,663,635,650,610,660,600,675,645,680,597,550,610,585,595,597,580,580,585,565,575];
const vibrioE=[286,250,372,799,818,855,872,780,817,823,832,772,722,738,650,660,680,675,690,715,745,758,805,805,775,770,690,710,710,695,670,640,660,640,690,630,695,662,685,605,565,630,605,620,625,612,620,622,592,593];
const thaueraE=[290,252,374,800,820,857,874,782,820,826,835,775,725,741,652,662,682,678,693,718,748,760,807,808,778,772,695,720,722,705,685,670,695,675,720,660,730,700,735,670,610,690,685,700,705,680,690,675,660,665];
const marinobacterE=[305,254,376,802,822,859,876,784,823,828,838,778,728,745,680,682,705,705,720,745,780,790,830,830,800,795,730,750,745,745,720,700,720,705,745,680,740,712,750,685,635,702,702,715,722,698,705,693,670,675];
const enterococcusE=[308,255,378,803,824,862,878,800,845,865,878,805,775,790,725,740,750,745,765,790,820,815,858,870,840,848,785,790,800,770,755,728,745,745,765,720,775,760,790,730,655,725,725,740,745,725,730,710,690,690];
const macellibacteroidesE=[309,256,380,805,826,870,895,825,870,885,890,840,815,790,728,745,752,748,770,793,825,820,860,873,843,852,825,820,840,820,790,790,795,790,785,755,785,778,805,755,675,750,745,765,770,745,745,730,708,715];
const flaviflexusE=[311,258,382,806,828,875,897,830,880,895,908,860,835,845,845,845,880,865,800,855,860,855,862,875,845,856,835,835,860,835,808,805,805,800,795,760,795,785,820,760,690,755,750,770,775,750,750,733,712,720];
const parapusillimonasE=[313,260,384,808,830,878,900,835,890,905,920,905,875,880,880,850,885,870,885,885,890,870,875,880,855,870,845,845,872,850,825,820,815,815,805,770,810,800,840,775,700,775,770,785,795,765,770,745,720,725];
const proteiniclasticumE=[316,280,386,830,850,890,905,860,920,930,935,925,905,915,895,870,905,895,905,890,900,880,885,890,870,885,855,860,880,860,838,832,825,830,820,780,825,815,850,785,712,790,785,800,808,775,780,755,728,733];
const actinomycesE=[317,282,388,832,852,900,915,878,925,940,945,935,915,925,905,880,925,915,915,900,912,895,895,900,880,895,875,875,895,880,865,860,855,858,855,800,835,830,875,800,720,800,795,810,815,785,790,765,735,740];
const paracoccusE=[318,283,390,835,855,902,918,880,930,945,948,938,925,930,915,890,932,925,925,918,925,915,915,912,890,905,885,885,900,885,880,870,875,875,890,845,885,870,900,830,750,820,810,825,825,795,800,775,745,748];
const marinobacteriumE=[382,350,400,850,860,905,920,885,935,948,950,942,932,935,925,900,940,932,930,925,935,925,935,925,925,935,905,900,905,890,890,885,885,880,895,850,890,875,895,840,757,828,822,835,835,825,805,800,785,755];
const dietziaE=[383,351,402,851,862,908,922,887,938,950,953,945,935,938,930,905,945,938,935,930,940,940,943,930,935,945,920,915,912,893,900,890,890,885,898,853,893,878,898,845,745,830,825,838,838,830,808,803,790,760];
const shewanellaE=[406,368,404,853,875,925,925,895,945,955,960,948,938,940,932,910,948,940,938,934,945,945,946,934,940,950,935,930,925,896,912,893,900,895,900,856,895,880,900,848,750,835,830,842,842,835,812,805,793,765];
const aliidiomarinaE=[407,369,406,855,877,928,927,897,950,957,962,951,941,941,936,916,950,946,941,938,951,948,949,938,946,952,939,938,929,898,917,896,903,898,903,858,897,882,902,832,752,840,835,845,848,838,815,808,797,770];
const paludibacterE=[408,370,430,856,878,932,928,900,953,958,963,953,943,943,938,918,953,948,943,940,953,950,951,940,948,953,941,940,931,899,919,899,905,899,905,858,899,880,903,848,758,850,838,845,852,840,833,808,820,808];
const burkholderiaceaeE=[410,372,435,858,880,935,930,902,955,960,965,955,945,945,940,920,955,950,945,942,955,952,953,942,950,955,943,942,933,900,920,900,905,900,905,860,900,880,905,850,760,850,840,845,853,840,835,810,825,810];

/* ===== Panel F ===== */
const tickLabelsF=['0','9-2','9-4','9-6','9-8','9-10','9-12','9-14','9-16','9-18','9-20','9-22','9-24','9-26','9-28','9-30','9-32','9-34','9-36','9-38','9-40','9-42','9-44','9-46','9-48','9-50'];
const castellaniellaF=[0,0,0,0,2,2,0,22,32,15,53,107,182,200,178,190,190,200,268,212,265,336,197,190,254,270,252,238,224,186,193,152,217,185,224,136,216,234,203,158,200,124,132,88,93,62,30,15,45,28,18];
const trichococcusF=[0,0,0,0,2,7,0,44,53,33,90,154,220,248,214,234,259,283,353,295,365,387,291,335,478,500,435,453,438,346,343,330,357,346,352,216,308,363,297,270,283,223,214,203,218,152,87,85,161,165,189];
const bacillusF=[14,7,20,20,16,45,80,184,349,448,483,544,445,449,384,369,353,363,435,353,425,420,320,365,506,544,458,478,463,371,365,352,373,365,365,229,320,384,308,286,298,241,230,224,234,164,93,92,165,170,192];
const pseudomonasF=[230,165,216,214,108,92,116,255,424,494,552,568,476,500,452,472,473,455,538,427,497,478,350,398,536,573,490,515,490,405,400,390,434,412,422,282,419,442,385,370,375,307,318,302,305,247,141,134,205,238,283];
const exiguobacteriumF=[250,232,320,328,408,445,450,375,524,572,617,628,532,568,493,503,506,488,562,448,516,487,357,404,545,578,495,520,495,410,404,394,438,416,425,286,423,446,389,373,378,311,322,305,308,250,143,137,208,241,286];
const lentimicrobiumF=[252,237,326,330,413,449,454,563,631,680,665,685,615,635,572,554,538,518,588,476,549,552,393,412,565,609,528,553,524,452,445,439,468,449,472,343,453,505,447,450,445,443,445,442,480,418,409,425,523,440,517];
const proteiniphilumF=[272,322,467,497,660,695,685,680,723,800,750,772,703,708,630,612,580,568,628,512,612,622,466,455,600,642,560,593,572,503,505,500,535,524,580,497,550,575,525,517,510,484,490,477,524,447,457,457,545,460,540];
const enterobacteriaceaeF=[277,328,472,500,667,700,688,688,736,805,760,777,715,716,650,620,590,575,640,532,645,665,530,545,680,725,622,647,654,600,595,596,590,574,608,530,570,600,548,543,533,505,510,500,545,462,463,463,548,463,545];
const idiomarinaF=[282,333,475,503,672,705,712,708,755,812,805,805,735,740,660,625,598,580,642,535,648,670,535,555,700,735,645,660,682,620,625,622,615,640,650,655,640,640,660,625,672,545,565,570,585,525,548,500,567,490,565];
const vibrioF=[286,337,478,505,685,740,716,712,758,815,808,808,740,745,662,640,605,600,660,572,688,710,740,655,735,752,655,675,685,625,630,627,622,645,670,680,650,655,672,640,680,560,580,590,615,570,565,545,610,520,605];
const thaueraF=[290,340,480,507,688,742,720,716,760,818,810,812,745,750,665,645,610,605,665,577,692,715,745,660,740,758,660,682,690,640,650,650,650,680,695,710,710,695,705,685,725,680,695,660,640,625,618,595,650,585,675];
const marinobacterF=[305,345,483,510,690,745,722,718,763,822,815,818,750,755,725,720,720,705,730,700,715,770,790,725,788,790,750,735,720,663,685,680,690,682,690,725,720,720,725,705,752,693,705,685,655,652,655,630,665,595,690];
const enterococcusF=[308,350,485,513,705,775,725,745,785,840,838,838,785,810,745,745,735,725,735,722,740,775,795,745,825,825,775,780,755,690,700,690,705,705,740,735,755,755,755,735,770,712,725,705,675,668,670,650,680,612,705];
const macellibacteroidesF=[309,352,487,515,715,800,775,788,790,855,860,860,790,815,755,748,738,728,740,725,745,780,800,748,830,828,798,795,805,740,748,755,760,742,770,755,770,770,768,755,785,735,742,740,695,690,690,670,698,650,722];
const flaviflexusF=[311,354,488,517,730,810,780,790,795,875,875,880,815,810,820,760,782,780,765,770,775,795,825,780,835,835,805,800,810,760,770,770,768,750,775,760,772,775,772,760,790,740,747,745,700,695,695,675,702,655,725];
const parapusillimonasF=[313,356,490,520,740,822,810,840,825,880,895,915,880,885,850,815,820,812,820,815,820,840,850,835,845,843,815,840,825,775,780,785,775,770,795,778,790,785,780,775,805,760,765,760,715,705,708,695,712,665,732];
const proteiniclasticumF=[316,375,500,540,770,860,855,862,870,890,905,930,910,925,880,840,850,850,860,845,860,850,860,855,855,855,825,855,845,790,790,800,790,785,805,795,800,805,790,785,812,775,775,780,725,715,717,710,720,675,740];
const actinomycesF=[317,377,502,543,775,865,875,880,890,900,915,935,930,945,890,860,860,865,870,860,865,860,885,885,885,880,850,870,875,815,815,840,825,825,835,815,830,815,810,805,820,790,785,790,735,722,725,718,728,683,747];
const paracoccusF=[318,378,503,545,780,870,885,890,900,910,925,940,935,950,900,885,880,875,885,880,880,870,905,895,895,895,862,880,885,835,840,860,845,850,860,860,880,850,860,840,855,825,815,815,760,745,745,735,745,700,760];
const marinobacteriumF=[382,408,555,600,785,875,888,900,907,925,935,945,950,955,905,890,890,880,890,885,885,885,935,920,930,935,895,905,900,860,860,880,865,862,880,880,890,865,870,850,865,845,825,825,770,755,755,752,775,755,770];
const dietziaF=[383,409,556,601,790,878,890,905,912,950,955,960,958,965,925,920,920,910,955,955,955,935,960,950,945,950,905,915,910,880,880,885,870,865,885,885,895,870,875,855,870,848,828,830,785,785,765,755,778,760,775];
const shewanellaF=[405,415,572,620,865,905,915,920,925,955,958,962,960,968,930,925,925,915,958,958,958,940,965,955,948,955,910,920,915,885,885,890,875,870,890,890,905,880,880,860,875,852,832,835,790,790,772,760,785,765,780];
const aliidiomarinaF=[406,417,574,622,867,910,925,930,935,958,962,965,963,970,950,950,955,955,965,968,965,960,975,975,958,970,945,945,925,900,910,895,880,895,900,895,912,885,885,865,880,858,838,842,795,795,780,770,795,770,785];
const paludibacterF=[407,418,575,624,870,912,927,932,937,960,963,966,964,971,951,951,956,956,966,969,966,961,976,976,959,971,946,946,926,905,912,897,885,897,902,900,915,888,888,870,885,880,860,875,840,832,825,810,840,820,830];
const burkholderiaceaeF=[410,425,580,632,875,925,935,938,942,930,945,955,950,960,955,958,955,950,950,953,960,958,955,958,955,950,945,925,910,900,905,895,890,895,905,850,905,875,878,870,868,840,840,805,810,805,800,778,808,758,825];

/* ===== Panel G ===== */
const tickLabelsG=['0','10-2','10-4','10-6','10-8','10-10','10-12','10-14','10-16','10-18','10-20','10-22','10-24','10-26','10-28','10-32','10-34','10-36','10-38','10-40','10-42','10-44','10-46','10-48','10-50'];
const castellaniellaG=[0,0,0,0,0,0,0,42,35,20,46,65,77,140,140,148,160,225,266,188,340,274,156,195,257,332,207,186,193,133,172,169,184,195,261,181,158,235,192,184,133,137,90,61,30,39,33,25,25];
const trichococcusG=[0,2,0,0,4,6,5,68,65,35,73,106,133,192,192,199,231,317,364,261,445,323,327,392,483,520,490,473,412,327,356,349,297,379,353,274,242,332,283,268,224,242,195,174,103,114,162,162,151];
const bacillusG=[14,16,13,23,13,37,46,200,258,442,438,510,459,461,367,356,389,431,458,308,507,354,375,442,525,560,533,507,439,346,372,373,315,403,367,290,257,351,296,282,238,256,209,183,110,120,175,167,156];
const pseudomonasG=[226,145,141,217,54,77,73,263,354,507,511,547,508,516,425,427,467,508,542,372,571,420,398,486,563,610,558,533,469,377,410,416,349,441,416,360,325,409,365,329,271,307,266,265,148,148,242,237,216];
const exiguobacteriumG=[250,197,231,486,560,563,658,554,544,626,598,629,604,604,483,483,512,547,575,393,590,431,408,499,570,615,563,540,474,379,412,420,353,445,418,362,327,412,368,332,273,308,268,266,150,150,245,238,217];
const lentimicrobiumG=[253,205,233,488,568,573,661,650,650,702,661,698,676,662,546,530,554,573,600,415,614,476,420,502,596,643,598,582,509,422,450,461,410,505,461,453,376,466,440,439,446,462,467,403,425,419,486,523,540];
const proteiniphilumG=[273,307,332,600,750,740,823,742,728,778,747,770,755,728,600,580,615,618,650,442,672,525,492,544,625,670,626,615,551,488,521,546,525,594,563,523,446,523,511,480,488,500,509,431,464,458,508,542,560];
const enterobacteriaceaeG=[278,313,340,605,752,745,825,754,738,785,760,780,766,738,617,596,625,630,662,464,707,560,603,660,712,742,714,681,620,608,615,604,575,618,584,547,466,542,535,499,508,519,528,446,474,474,513,547,565];
const idiomarinaG=[283,320,345,612,755,748,830,775,760,800,780,800,778,760,626,610,632,640,670,474,710,568,606,665,724,766,724,697,643,634,639,639,625,648,686,594,561,625,625,643,544,558,565,495,507,507,544,574,592];
const vibrioG=[288,325,348,625,767,752,832,780,775,808,790,805,790,770,630,622,640,650,700,490,777,610,752,775,761,794,738,709,648,640,645,645,630,655,700,606,575,639,639,653,560,585,581,530,575,552,574,604,608];
const thaueraG=[292,327,350,627,825,754,834,782,777,810,792,807,792,772,640,640,650,655,702,500,778,612,754,777,770,800,740,715,650,655,670,672,645,670,735,650,620,680,700,720,712,665,665,590,630,635,640,650,690];
const marinobacterG=[303,329,352,629,826,756,836,785,780,815,795,810,795,775,650,665,675,690,735,585,800,752,815,825,805,820,765,735,668,690,700,700,690,695,745,665,640,710,717,727,725,690,690,620,665,660,675,665,700];
const enterococcusG=[306,330,354,631,827,758,838,795,800,825,810,840,825,797,680,695,700,733,765,595,815,762,840,852,835,845,790,780,714,745,735,725,715,720,755,695,670,745,735,740,735,700,700,640,680,675,690,675,708];
const macellibacteroidesG=[307,332,356,633,828,760,840,805,805,845,830,855,845,806,692,695,702,735,766,600,825,767,855,860,850,860,815,810,757,800,792,785,765,765,770,700,672,775,755,765,760,720,725,670,710,712,720,700,725];
const flaviflexusG=[308,334,358,636,832,775,842,815,812,852,850,865,860,835,752,738,804,792,808,640,860,785,865,865,855,865,825,815,772,815,805,800,785,775,780,725,690,790,770,775,765,730,730,672,715,720,725,705,730];
const parapusillimonasG=[310,340,360,640,834,785,845,835,825,860,870,895,885,865,832,815,856,844,858,672,885,815,875,872,860,868,835,825,787,820,815,815,800,800,800,750,705,800,785,785,780,755,750,685,725,730,730,715,745];
const proteiniclasticumG=[314,370,365,650,885,815,860,865,845,875,900,920,915,895,860,845,895,880,880,690,905,825,885,880,870,878,845,835,800,830,830,825,815,810,815,765,715,815,795,795,790,770,760,695,735,735,740,720,755];
const actinomycesG=[315,371,366,652,886,818,875,875,852,880,920,930,925,905,875,865,915,895,905,705,925,853,910,900,880,930,885,865,840,850,860,850,845,835,845,780,725,830,812,805,795,778,770,705,750,742,745,725,760];
const paracoccusG=[316,372,367,654,887,820,878,878,854,882,922,940,930,915,895,885,925,905,915,720,928,865,915,902,888,935,890,875,845,855,870,860,870,860,875,820,742,855,825,818,805,790,785,715,765,750,755,735,765];
const marinobacteriumG=[377,402,420,684,888,822,880,880,856,884,924,945,935,920,900,890,928,910,920,742,932,872,925,930,930,938,905,895,875,865,880,870,875,865,880,825,748,862,845,830,810,800,795,718,775,758,765,750,772];
const dietziaG=[378,403,421,686,889,824,882,885,860,886,925,947,937,925,905,900,932,925,935,940,935,925,935,940,935,940,920,920,905,885,882,875,878,870,885,828,749,870,850,835,812,802,797,719,778,760,767,752,774];
const shewanellaG=[403,405,432,724,893,828,885,912,928,940,940,950,940,935,912,910,935,932,940,942,940,930,940,945,940,942,925,925,908,890,885,880,880,872,888,830,750,880,855,842,813,803,800,720,780,761,768,753,776];
const aliidiomarinaG=[405,407,436,725,895,834,889,918,932,945,945,952,945,942,926,919,942,947,948,950,949,947,950,951,951,955,937,930,915,895,890,885,883,878,893,835,751,889,860,845,815,808,805,722,782,762,770,755,780];
const paludibacterG=[407,409,437,725,896,835,890,920,934,946,946,953,946,943,927,920,943,948,948,955,950,948,950,951,951,956,938,931,922,900,895,890,885,882,895,838,752,892,866,855,828,820,818,740,815,795,808,792,825];
const burkholderiaceaeG=[408,410,439,726,898,837,893,922,936,948,948,955,948,945,929,922,945,950,950,957,952,950,952,953,953,958,940,933,924,903,898,893,889,886,898,842,757,896,870,860,835,827,825,747,818,800,813,797,829];

const panelSeries={
A:[castellaniellaA,trichococcusA,bacillusA,pseudomonasA,exiguobacteriumA,lentimicrobiumA,proteiniphilumA,enterobacteriaceaeA,idiomarinaA,vibrioA,thaueraA,marinobacterA,enterococcusA,macellibacteroidesA,flaviflexusA,parapusillimonasA,proteiniclasticumA,actinomycesA,paracoccusA,marinobacteriumA,dietziaA,shewanellaA,aliidiomarinaA,paludibacterA,burkholderiaceaeA],
B:[castellaniellaB,trichococcusB,bacillusB,pseudomonasB,exiguobacteriumB,lentimicrobiumB,proteiniphilumB,enterobacteriaceaeB,idiomarinaB,vibrioB,thaueraB,marinobacterB,enterococcusB,macellibacteroidesB,flaviflexusB,parapusillimonasB,proteiniclasticumB,actinomycesB,paracoccusB,marinobacteriumB,dietziaB,shewanellaB,aliidiomarinaB,paludibacterB,burkholderiaceaeB],
C:[castellaniellaC,trichococcusC,bacillusC,pseudomonasC,exiguobacteriumC,lentimicrobiumC,proteiniphilumC,enterobacteriaceaeC,idiomarinaC,vibrioC,thaueraC,marinobacterC,enterococcusC,macellibacteroidesC,flaviflexusC,parapusillimonasC,proteiniclasticumC,actinomycesC,paracoccusC,marinobacteriumC,dietziaC,shewanellaC,aliidiomarinaC,paludibacterC,burkholderiaceaeC],
D:[castellaniellaD,trichococcusD,bacillusD,pseudomonasD,exiguobacteriumD,lentimicrobiumD,proteiniphilumD,enterobacteriaceaeD,idiomarinaD,vibrioD,thaueraD,marinobacterD,enterococcusD,macellibacteroidesD,flaviflexusD,parapusillimonasD,proteiniclasticumD,actinomycesD,paracoccusD,marinobacteriumD,dietziaD,shewanellaD,aliidiomarinaD,paludibacterD,burkholderiaceaeD],
E:[castellaniellaE,trichococcusE,bacillusE,pseudomonasE,exiguobacteriumE,lentimicrobiumE,proteiniphilumE,enterobacteriaceaeE,idiomarinaE,vibrioE,thaueraE,marinobacterE,enterococcusE,macellibacteroidesE,flaviflexusE,parapusillimonasE,proteiniclasticumE,actinomycesE,paracoccusE,marinobacteriumE,dietziaE,shewanellaE,aliidiomarinaE,paludibacterE,burkholderiaceaeE],
F:[castellaniellaF,trichococcusF,bacillusF,pseudomonasF,exiguobacteriumF,lentimicrobiumF,proteiniphilumF,enterobacteriaceaeF,idiomarinaF,vibrioF,thaueraF,marinobacterF,enterococcusF,macellibacteroidesF,flaviflexusF,parapusillimonasF,proteiniclasticumF,actinomycesF,paracoccusF,marinobacteriumF,dietziaF,shewanellaF,aliidiomarinaF,paludibacterF,burkholderiaceaeF],
G:[castellaniellaG,trichococcusG,bacillusG,pseudomonasG,exiguobacteriumG,lentimicrobiumG,proteiniphilumG,enterobacteriaceaeG,idiomarinaG,vibrioG,thaueraG,marinobacterG,enterococcusG,macellibacteroidesG,flaviflexusG,parapusillimonasG,proteiniclasticumG,actinomycesG,paracoccusG,marinobacteriumG,dietziaG,shewanellaG,aliidiomarinaG,paludibacterG,burkholderiaceaeG]
};
const panelTicks={A:tickLabelsA,B:tickLabelsB,C:tickLabelsC,D:tickLabelsD,E:tickLabelsE,F:tickLabelsF,G:tickLabelsG};
const panelTitles={A:'2',B:'3',C:'5',D:'6',E:'7',F:'9',G:'10'};

const layouts=[
{id:'A',left:107,right:745.5,bottom:471.6,top:60.7,letterX:16,letterY:33,titleX:420,titleY:53,xLabelX:420,xLabelY:542,yLabelX:54,yLabelY:267,yTickX:76,black:true},
{id:'B',left:875.4,right:1515,bottom:472,top:65,letterX:773,letterY:33,titleX:1199.4,titleY:58,xLabelX:1206,xLabelY:546,yLabelX:819,yLabelY:281,yTickX:844,black:true},
{id:'C',left:104,right:745.4,bottom:983.9,top:576.8,letterX:16,letterY:561,titleX:420,titleY:572,xLabelX:420,xLabelY:1061,yLabelX:44,yLabelY:790,yTickX:72.7,black:true},
{id:'D',left:876,right:1525,bottom:995,top:583.7,letterX:773,letterY:562,titleX:1202,titleY:580,xLabelX:1214,xLabelY:1064,yLabelX:820,yLabelY:795.5,yTickX:845.6,black:true},
{id:'E',left:101.6,right:740.5,bottom:1517.7,top:1108.5,letterX:16,letterY:1090,titleX:419,titleY:1102,xLabelX:432,xLabelY:1591,yLabelX:44,yLabelY:1310.7,yTickX:72,black:true,colorOverride:{0:'#3c6bb0'}},
{id:'F',left:876,right:1529,bottom:1518,top:1109,letterX:773,letterY:1089,titleX:1203,titleY:1101,xLabelX:1211.6,xLabelY:1591,yLabelX:820,yLabelY:1318,yTickX:845,black:true},
{id:'G',left:443.9,right:1093.6,bottom:2031,top:1627,letterX:316,letterY:1622,titleX:781,titleY:1624,xLabelX:796,xLabelY:2112,yLabelX:387,yLabelY:1838,yTickX:412.7,black:false,colorOverride:{13:'#f09b62'}}
];

const SVGNS='http://www.w3.org/2000/svg';
const root=document.getElementById('panels');

function make(tag,parent){
  const el=document.createElementNS(SVGNS,tag);
  parent.appendChild(el);
  return el;
}
function place(el,attrs){
  for(const k in attrs){el.setAttribute(k,attrs[k]);}
  return el;
}

layouts.forEach(function(cfg){
  const series=panelSeries[cfg.id];
  const ticks=panelTicks[cfg.id];
  const nBars=series[0].length;
  const step=(cfg.right-cfg.left)/nBars;
  const gap=1.3;
  const overrides=cfg.colorOverride||{};
  const xScale=function(i){return cfg.left+step*i;};
  const yScale=function(v){return cfg.bottom+(cfg.top-cfg.bottom)*v/1000;};

  const g=make('g',root);
  
  

  const letter=make('text',g);
  place(letter,{x:cfg.letterX,y:cfg.letterY,'class':'letter'});
  letter.textContent=cfg.id;
  
  

  const title=make('text',g);
  place(title,{x:cfg.titleX,y:cfg.titleY,'text-anchor':'middle','font-size':21});
  title.textContent=panelTitles[cfg.id];
  
  

  for(let i=0;i<nBars;i++){
    let lower=0;
    const x=xScale(i)+gap/2;
    const w=step-gap;
    for(let s=0;s<series.length;s++){
      const raw=series[s][i];
      const upper=Math.max(lower,raw===undefined?lower:raw);
      if(upper>lower){
        const r=make('rect',g);
        place(r,{x:x.toFixed(2),y:yScale(upper).toFixed(2),width:w.toFixed(2),height:(yScale(lower)-yScale(upper)).toFixed(2),fill:overrides[s]||seriesColors[s]});
        
        
      }
      lower=upper;
    }
    const o=make('rect',g);
    place(o,{x:x.toFixed(2),y:yScale(1000).toFixed(2),width:w.toFixed(2),height:(yScale(lower)-yScale(1000)).toFixed(2),fill:othersColor});
    
    
  }

  const topLine=make('line',g);
  place(topLine,{x1:cfg.left,x2:cfg.right,y1:cfg.top,y2:cfg.top,stroke:'#d0d0d0','stroke-width':1.2});
  
  

  const axisColor=cfg.black?'#000':'#cfcfcf';
  const axisWidth=cfg.black?3:1.5;

  if(cfg.black){
    const yAxis=make('line',g);
    place(yAxis,{x1:cfg.left,x2:cfg.left,y1:cfg.top-1,y2:cfg.bottom+1,stroke:axisColor,'stroke-width':axisWidth});
    
    
    yTickValues.forEach(function(v){
      const t=make('line',g);
      place(t,{x1:cfg.left-7,x2:cfg.left,y1:yScale(v),y2:yScale(v),stroke:'#000','stroke-width':2.5});
      
      
    });
    for(let i=0;i<=nBars;i++){
      const t=make('line',g);
      place(t,{x1:xScale(i),x2:xScale(i),y1:cfg.bottom,y2:cfg.bottom+7,stroke:'#000','stroke-width':2});
      
      
    }
  }
  const xAxis=make('line',g);
  place(xAxis,{x1:cfg.left-(cfg.black?7:0),x2:cfg.right,y1:cfg.bottom,y2:cfg.bottom,stroke:axisColor,'stroke-width':axisWidth});
  
  

  yTickValues.forEach(function(v,idx){
    const t=make('text',g);
    const yy=yScale(v);
    place(t,{x:cfg.yTickX,y:yy,'text-anchor':'middle','font-size':20.5,dy:'0.35em',transform:'rotate(-90 '+cfg.yTickX+' '+yy+')'});
    t.textContent=yTickLabels[idx];
    
    
  });

  ticks.forEach(function(lab,idx){
    const cx=xScale(idx*2)+step/2;
    const yy=cfg.bottom+14;
    const t=make('text',g);
    place(t,{x:cx,y:yy,'text-anchor':'end','font-size':20.5,dy:'0.35em',transform:'rotate(-90 '+cx+' '+yy+')'});
    t.textContent=lab;
    
    
  });

  const xLab=make('text',g);
  place(xLab,{x:cfg.xLabelX+8,y:cfg.xLabelY,'text-anchor':'middle','font-size':20.5,textLength:203,lengthAdjust:'spacingAndGlyphs'});
  xLab.textContent='injection time（day）';
  
  

  const yLab=make('text',g);
  place(yLab,{x:cfg.yLabelX,y:cfg.yLabelY,'text-anchor':'middle','font-size':22,dy:'0.35em',textLength:172,lengthAdjust:'spacingAndGlyphs',transform:'rotate(-90 '+cfg.yLabelX+' '+cfg.yLabelY+')'});
  yLab.textContent='Relative abundance';
  
  
});
</script>
</body>
</html>
